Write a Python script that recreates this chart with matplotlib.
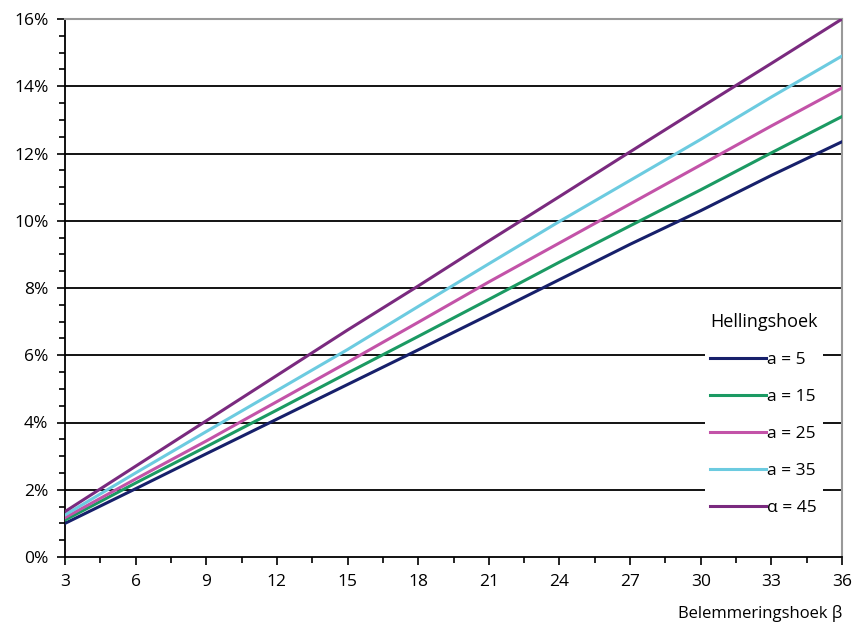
import numpy as np
import matplotlib.pyplot as plt
from matplotlib.ticker import MultipleLocator, FuncFormatter

plt.rcParams['font.family'] = ['Open Sans', 'DejaVu Sans']

beta = [3, 6, 9, 12, 15, 18, 21, 24, 27, 30, 33, 36]
a5 = [1.0, 2.03, 3.07, 4.1, 5.13, 6.16, 7.2, 8.25, 9.3, 10.3, 11.35, 12.35]
a15 = [1.1, 2.2, 3.28, 4.37, 5.47, 6.56, 7.66, 8.77, 9.85, 10.92, 12.02, 13.1]
a25 = [1.17, 2.32, 3.45, 4.62, 5.79, 6.98, 8.18, 9.34, 10.5, 11.66, 12.82, 13.95]
a35 = [1.25, 2.5, 3.73, 4.95, 6.17, 7.45, 8.72, 9.98, 11.2, 12.42, 13.68, 14.9]
a45 = [1.35, 2.7, 4.05, 5.4, 6.75, 8.06, 9.4, 10.72, 12.05, 13.37, 14.68, 16.0]

labels = ['a = 5', 'a = 15', 'a = 25', 'a = 35', 'α = 45']
colors = ['#17206b', '#1b9a63', '#c353a8', '#6ccbe0', '#7a2a7f']
series = [a5, a15, a25, a35, a45]

fig = plt.figure(figsize=(8.63, 6.25), dpi=100)
ax = fig.add_axes([0.0753, 0.1088, 0.9004, 0.8608])

# horizontal gridlines
for v in [2, 4, 6, 8, 10, 12, 14]:
    ax.axhline(v, color='black', lw=1.3, zorder=1)

for s, lab, c in zip(series, labels, colors):
    ax.plot(beta, s, color=c, lw=2.2, label=lab, zorder=3)

ax.set_xlim(3, 36)
ax.set_ylim(0, 16)
ax.xaxis.set_major_locator(MultipleLocator(3))
ax.xaxis.set_minor_locator(MultipleLocator(1.5))
ax.yaxis.set_major_locator(MultipleLocator(2))
ax.yaxis.set_minor_locator(MultipleLocator(0.5))
ax.yaxis.set_major_formatter(FuncFormatter(lambda v, p: '%d%%' % v))
ax.tick_params(which='major', length=6, width=1.2, labelsize=12.5, pad=6)
ax.tick_params(which='minor', length=4, width=1.2)

ax.spines['left'].set_linewidth(1.3)
ax.spines['bottom'].set_linewidth(1.3)
ax.spines['top'].set_color('#999999')
ax.spines['right'].set_color('#999999')
ax.spines['top'].set_linewidth(1.5)
ax.spines['right'].set_linewidth(1.5)

ax.set_xlabel('Belemmeringshoek β', loc='right', fontsize=12, labelpad=11)

leg = ax.legend(title='Hellingshoek', loc='upper left', bbox_to_anchor=(0.812, 0.48),
                frameon=True, fancybox=False, edgecolor='none', framealpha=1,
                fontsize=12.5, title_fontsize=13, handlelength=3.2, handletextpad=0.1,
                labelspacing=1.2, borderpad=0.3)
leg.set_zorder(5)

plt.savefig('out.png', dpi=100)
